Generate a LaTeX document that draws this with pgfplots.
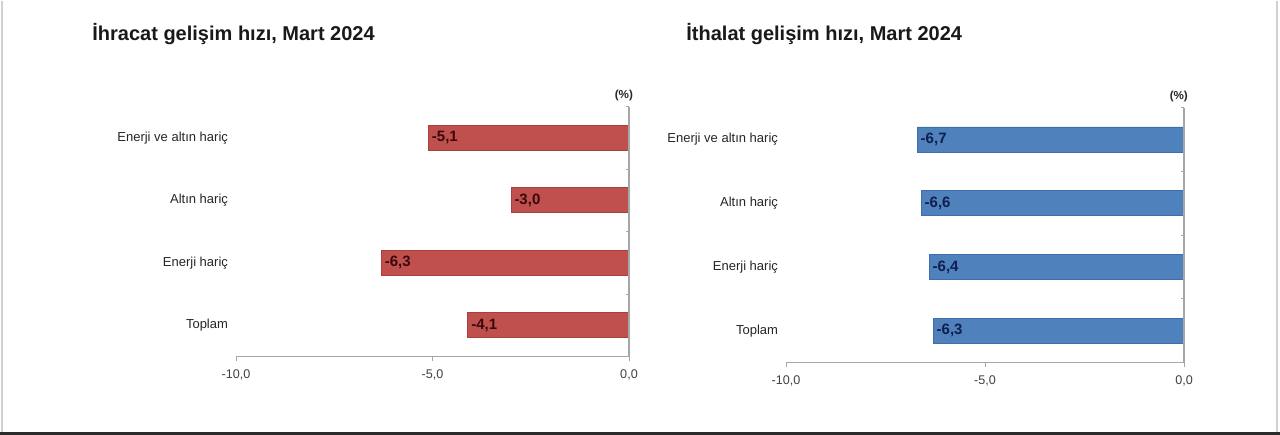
\documentclass[border=0pt]{standalone}
\usepackage{fontspec}
\setmainfont{Liberation Sans}
\usepackage{pgfplots}
\pgfplotsset{compat=1.18}

\definecolor{barred}{HTML}{C0504D}
\definecolor{barrededge}{HTML}{A8403D}
\definecolor{barblue}{HTML}{4F81BD}
\definecolor{barblueedge}{HTML}{3F6FA8}
\definecolor{lbred}{HTML}{3A0808}
\definecolor{lbblue}{HTML}{0F1F50}
\definecolor{axgray}{HTML}{A6A6A6}
\definecolor{tickgray}{HTML}{404040}
\definecolor{labgray}{HTML}{262626}
\definecolor{framegray}{HTML}{D0D0D0}
\definecolor{darkline}{HTML}{2A2A2A}

\pgfplotsset{
  hiz/.style={
    scale only axis,
    xbar, bar width=12.5pt,
    xmin=-10, xmax=0, ymin=-0.5, ymax=3.5,
    axis x line*=bottom, axis y line*=left,
    y axis line style={draw=none},
    x axis line style={draw=axgray, line width=0.6pt},
    xtick={-10,-5,0},
    ytick={0,1,2,3},
    yticklabels={Toplam, Enerji hariç, Altın hariç, Enerji ve altın hariç},
    ytick style={draw=none},
    xtick style={draw=axgray, line width=0.5pt},
    tick align=outside, major tick length=2pt,
    xticklabel style={font=\fontsize{6.3}{7}\selectfont, text=tickgray, yshift=-1pt},
    yticklabel style={font=\fontsize{6.5}{7}\selectfont, text=labgray, xshift=1.5pt},
    /pgf/number format/assume math mode=true,
    /pgf/number format/use comma,
    /pgf/number format/fixed,
    /pgf/number format/fixed zerofill,
    /pgf/number format/precision=1,
    nodes near coords,
    nodes near coords style={anchor=west, inner sep=1.5pt,
      font=\bfseries\fontsize{7.5}{8}\selectfont},
    clip=false,
  }
}

\begin{document}
\begin{tikzpicture}
% background and frame
\fill[white] (0pt,0pt) rectangle (640pt,-217pt);
\draw[framegray, line width=0.6pt] (1pt,0pt) -- (1pt,-215.5pt);
\draw[framegray, line width=0.6pt] (638.5pt,0pt) -- (638.5pt,-215.5pt);
\fill[darkline] (0pt,-215.5pt) rectangle (640pt,-217pt);

% titles
\node[anchor=west, inner sep=0pt, font=\bfseries\fontsize{10}{12}\selectfont, text=black!90]
  at (46pt,-16.5pt) {İhracat gelişim hızı, Mart 2024};
\node[anchor=west, inner sep=0pt, font=\bfseries\fontsize{10}{12}\selectfont, text=black!90]
  at (343pt,-16.5pt) {İthalat gelişim hızı, Mart 2024};

% export
\begin{axis}[hiz, at={(118pt,-178pt)}, anchor=south west,
  width=196.5pt, height=125pt]
  \addplot[fill=barred, draw=barrededge, line width=0.4pt,
    nodes near coords style={text=lbred}]
    coordinates {(-5.1,3) (-3.0,2) (-6.3,1) (-4.1,0)};
  \draw[axgray, line width=0.6pt] (axis cs:0,-0.5) -- (axis cs:0,3.5);
  \pgfplotsinvokeforeach{-0.5,0.5,1.5,2.5,3.5}{
    \draw[axgray, line width=0.5pt] (axis cs:0,#1) -- ++(-1.5pt,0pt);}
  \node[font=\bfseries\fontsize{5.8}{6}\selectfont, text=labgray]
    at (axis cs:-0.13,3.5) [yshift=5.5pt] {(\%)};
\end{axis}

% import
\begin{axis}[hiz, at={(393pt,-181pt)}, anchor=south west,
  width=199pt, height=127.5pt]
  \addplot[fill=barblue, draw=barblueedge, line width=0.4pt,
    nodes near coords style={text=lbblue}]
    coordinates {(-6.7,3) (-6.6,2) (-6.4,1) (-6.3,0)};
  \draw[axgray, line width=0.6pt] (axis cs:0,-0.5) -- (axis cs:0,3.5);
  \pgfplotsinvokeforeach{-0.5,0.5,1.5,2.5,3.5}{
    \draw[axgray, line width=0.5pt] (axis cs:0,#1) -- ++(-1.5pt,0pt);}
  \node[font=\bfseries\fontsize{5.8}{6}\selectfont, text=labgray]
    at (axis cs:-0.13,3.5) [yshift=5.5pt] {(\%)};
\end{axis}
\end{tikzpicture}
\end{document}
